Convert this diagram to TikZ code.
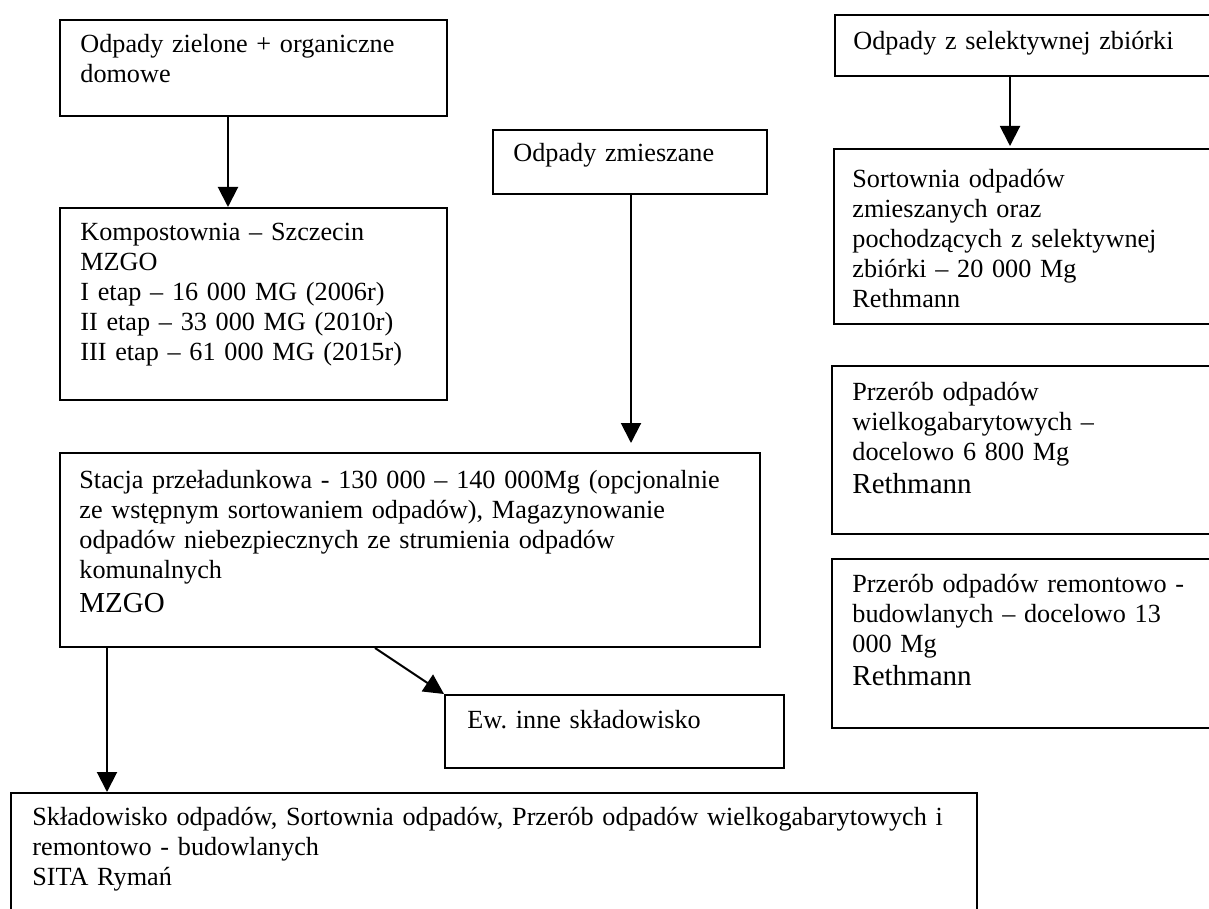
\documentclass[tikz,border=0pt]{standalone}
\usepackage{fontspec}
\setmainfont{Liberation Serif}
\usetikzlibrary{arrows.meta,calc}
\newcommand{\bigtxt}{\fontsize{14.5}{15}\selectfont}
\begin{document}
\frenchspacing
\begin{tikzpicture}[x=0.5pt,y=-0.5pt,
  box/.style={draw, line width=1pt, inner sep=0pt, anchor=north west},
  txt/.style={anchor=base west, inner sep=0pt, text width=520pt, align=left, font=\fontsize{13.1}{15}\selectfont},
  arr/.style={line width=1pt, -{Triangle[width=10pt,length=10pt]}}]
\useasboundingbox (0,0) rectangle (1209,909);
% boxes
\node[box, minimum width={387*0.5pt}, minimum height={96*0.5pt}] (A) at (59,19) {};
\node[box, minimum width={387*0.5pt}, minimum height={192*0.5pt}] (B) at (59,207) {};
\node[box, minimum width={274*0.5pt}, minimum height={64*0.5pt}] (C) at (492,129) {};
\node[box, minimum width={700*0.5pt}, minimum height={194*0.5pt}] (D) at (59,452) {};
\node[box, minimum width={339*0.5pt}, minimum height={73*0.5pt}] (E) at (444,694) {};
\node[box, minimum width={966*0.5pt}, minimum height={140*0.5pt}] (F) at (10,792) {};
\node[box, minimum width={400*0.5pt}, minimum height={61*0.5pt}] (G) at (834,14) {};
\node[box, minimum width={400*0.5pt}, minimum height={175*0.5pt}] (H) at (833,148) {};
\node[box, minimum width={400*0.5pt}, minimum height={168*0.5pt}] (I) at (831,365) {};
\node[box, minimum width={400*0.5pt}, minimum height={169*0.5pt}] (J) at (831,558) {};
% texts
\node[txt] (tA) at (80,53) {Odpady zielone + organiczne\\domowe};
\node[txt] (tB) at (80,241) {Kompostownia – Szczecin\\MZGO\\I etap – 16 000 MG (2006r)\\II etap – 33 000 MG (2010r)\\III etap – 61 000 MG (2015r)};
\node[txt] (tC) at (513,162) {Odpady zmieszane};
\node[txt] (tD) at (79,488) {Stacja przeładunkowa - 130 000 – 140 000Mg (opcjonalnie\\ze wstępnym sortowaniem odpadów), Magazynowanie\\odpadów niebezpiecznych ze strumienia odpadów\\komunalnych\\[2pt]{\bigtxt MZGO}};
\node[txt] (tE) at (467,728) {Ew. inne składowisko};
\node[txt] (tF) at (32,825) {Składowisko odpadów, Sortownia odpadów, Przerób odpadów wielkogabarytowych i\\remontowo - budowlanych\\SITA Rymań};
\node[txt] (tG) at (853,50) {Odpady z selektywnej zbiórki};
\node[txt] (tH) at (852,188) {Sortownia odpadów\\zmieszanych oraz\\pochodzących z selektywnej\\zbiórki – 20 000 Mg\\Rethmann};
\node[txt] (tI) at (852,400) {Przerób odpadów\\wielkogabarytowych –\\docelowo 6 800 Mg\\[1.5pt]{\bigtxt Rethmann}};
\node[txt] (tJ) at (852,592) {Przerób odpadów remontowo -\\budowlanych – docelowo 13\\000 Mg\\[1.5pt]{\bigtxt Rethmann}};
% arrows
\draw[arr] ($(A.south west)+(169,0)$) -- ($(B.north west)+(169,0)$);
\draw[arr] ($(C.south west)+(139,0)$) -- ($(D.north west)+(572,-9)$);
\draw[arr] ($(D.south west)+(48,0)$) -- ($(F.north west)+(97,0)$);
\draw[arr] ($(D.south west)+(316,0)$) -- (E.north west);
\draw[arr] ($(G.south west)+(176,0)$) -- ($(H.north west)+(177,-2)$);
\end{tikzpicture}
\end{document}
